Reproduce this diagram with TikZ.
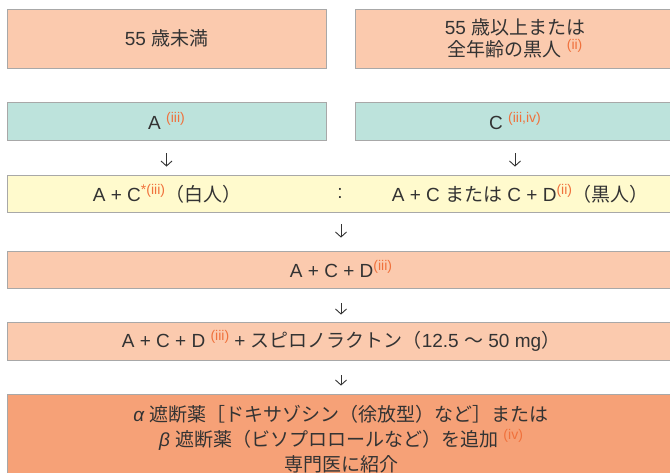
\documentclass[tikz,border=0pt]{standalone}
\usepackage{fontspec}
\setmainfont{Liberation Sans}
\newfontfamily\jpfont{Noto Sans CJK JP}
\usetikzlibrary{arrows.meta}

\definecolor{peach}{HTML}{FBCAAE}
\definecolor{mint}{HTML}{BDE3DC}
\definecolor{lemon}{HTML}{FFFACD}
\definecolor{salmon}{HTML}{F6A177}
\definecolor{boxgray}{HTML}{A8A8A8}
\definecolor{ink}{HTML}{333333}
\definecolor{markorange}{HTML}{F0713C}

\newcommand{\jp}[1]{{\jpfont #1}}
\newcommand{\refmark}[1]{\raisebox{7pt}{\fontsize{14}{14}\selectfont\color{markorange}#1}}

\begin{document}
\begin{tikzpicture}[x=1pt,y=-1pt,
    box/.style={draw=boxgray, line width=0.8pt, inner sep=0pt, text=ink, align=center,
      font=\fontsize{19}{22}\selectfont},
    txt/.style={inner sep=0pt, text=ink, font=\fontsize{19}{22}\selectfont},
    arr/.style={-{Straight Barb[length=5pt,width=11pt]}, line width=0.9pt, draw=ink}]
  \useasboundingbox (0,0) rectangle (670,473);
  \clip (0,0) rectangle (670,473);

  % age groups
  \node[box, fill=peach, minimum width=319pt, minimum height=59pt] (young) at (166.5,38.5) {55 \jp{歳未満}};
  \node[box, fill=peach, minimum width=320pt, minimum height=59pt] (old) at (515,38.5)
    {55 \jp{歳以上または}\\\jp{全年齢の黒人} \refmark{(ii)}};

  % first step
  \node[box, fill=mint, minimum width=319pt, minimum height=38pt] (drA) at (166.5,121) {A \refmark{(iii)}};
  \node[box, fill=mint, minimum width=320pt, minimum height=38pt] (drC) at (515,121) {C \refmark{(iii,iv)}};

  % second step
  \node[box, fill=lemon, minimum width=668pt, minimum height=37pt] (stepb) at (341,193.5) {};
  \node[txt] (white) at (167,193.5) {A + C\refmark{*(iii)}\jp{（白人）}};
  \node[txt] (colon) at (340,193) {:};
  \node[txt] (black) at (520,193.5) {A + C \jp{または} C + D\refmark{(ii)}\jp{（黒人）}};

  % further steps
  \node[box, fill=peach, minimum width=668pt, minimum height=37pt] (stepc) at (341,269.5) {A + C + D\refmark{(iii)}};
  \node[box, fill=peach, minimum width=668pt, minimum height=38pt] (stepd) at (341,341)
    {A + C + D \refmark{(iii)} + \jp{スピロノラクトン（}12.5 \jp{～} 50 mg\jp{）}};
  \node[box, fill=salmon, minimum width=668pt, minimum height=90pt, font=\fontsize{19}{25}\selectfont] (stepe) at (341,439)
    {{\itshape α} \jp{遮断薬［ドキサゾシン（徐放型）など］または}\\
     {\itshape β} \jp{遮断薬（ビソプロロールなど）を追加} \refmark{(iv)}\\
     \jp{専門医に紹介}};

  % arrows
  \draw[arr, shorten <=13pt, shorten >=8pt] (drA.south) -- (drA.south |- stepb.north);
  \draw[arr, shorten <=13pt, shorten >=8pt] (drC.south) -- (drC.south |- stepb.north);
  \foreach \a/\b/\s/\e in {stepb/stepc/12/13, stepc/stepd/15/7, stepd/stepe/15/8}{
    \draw[arr, shorten <=\s pt, shorten >=\e pt] (\a.south) -- (\b.north);
  }
\end{tikzpicture}
\end{document}
